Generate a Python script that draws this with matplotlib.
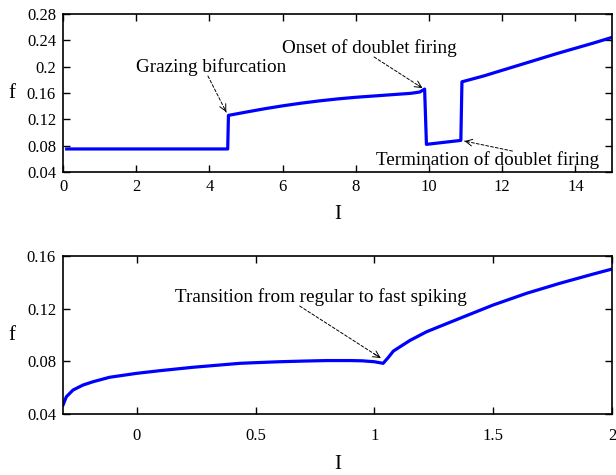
import matplotlib
matplotlib.use('Agg')
import matplotlib.pyplot as plt

plt.rcParams['font.family'] = ['Liberation Serif', 'DejaVu Serif']

# top panel: f vs I
I_top = [0.1, 4.5, 4.52, 5.0, 5.5, 6.0, 6.5, 7.0, 7.5, 8.0, 8.5, 9.0, 9.5, 9.75,
         9.88, 9.93, 10.4, 10.87, 10.9, 11.5, 12.0, 12.5, 13.0, 13.5, 14.0, 14.5, 15.0]
f_top = [0.075, 0.075, 0.126, 0.131, 0.136, 0.1405, 0.1445, 0.148, 0.151, 0.1535,
         0.1555, 0.1575, 0.1595, 0.1615, 0.166, 0.082, 0.085, 0.088, 0.177, 0.186,
         0.1945, 0.203, 0.2115, 0.220, 0.228, 0.236, 0.2445]

# bottom panel: f vs I
I_bot = [-0.31, -0.296, -0.268, -0.226, -0.184, -0.114, 0.0, 0.097, 0.237, 0.434,
         0.5, 0.6, 0.7, 0.8, 0.9, 0.95, 1.0, 1.037, 1.058, 1.08, 1.149, 1.22, 1.36,
         1.5, 1.641, 1.781, 1.921, 2.0]
f_bot = [0.0468, 0.0531, 0.0582, 0.062, 0.0645, 0.0679, 0.0709, 0.0729, 0.0755,
         0.0785, 0.079, 0.0797, 0.0802, 0.0806, 0.0806, 0.0804, 0.0797, 0.0785,
         0.0828, 0.0878, 0.0958, 0.1025, 0.1127, 0.1228, 0.1317, 0.1393, 0.1463,
         0.1501]

fig = plt.figure(figsize=(6.16, 4.75), dpi=100)
ax1 = fig.add_axes([0.1023, 0.6379, 0.8912, 0.3326])
ax2 = fig.add_axes([0.1023, 0.1284, 0.8912, 0.3326])

ax1.plot(I_top, f_top, color='#0000ff', lw=2.3)
ax2.plot(I_bot, f_bot, color='#0000ff', lw=2.3, solid_joinstyle='round')

ax1.set_xlim(0, 15)
ax1.set_ylim(0.04, 0.28)
ax1.set_xticks([0, 2, 4, 6, 8, 10, 12, 14])
ax1.set_yticks([0.04, 0.08, 0.12, 0.16, 0.2, 0.24, 0.28])
ax1.set_yticklabels(['0.04', '0.08', '0.12', '0.16', '0.2', '0.24', '0.28'])

ax2.set_xlim(-0.31, 2)
ax2.set_ylim(0.04, 0.16)
ax2.set_xticks([0, 0.5, 1, 1.5, 2])
ax2.set_xticklabels(['0', '0.5', '1', '1.5', '2'])
ax2.set_yticks([0.04, 0.08, 0.12, 0.16])
ax2.set_yticklabels(['0.04', '0.08', '0.12', '0.16'])

for ax in (ax1, ax2):
    ax.tick_params(direction='in', top=True, right=True, length=5, width=1,
                   labelsize=12, pad=5)
    for s in ax.spines.values():
        s.set_linewidth(1.2)
    ax.set_ylabel('f', fontsize=15, rotation=0, labelpad=11, va='center')

ax2.tick_params(axis='x', pad=10)
ax1.set_xlabel('I', fontsize=15, labelpad=7)
ax2.set_xlabel('I', fontsize=15, labelpad=8)


def note(ax, text, txy, start, end):
    ax.text(txy[0], txy[1], text, fontsize=13.8, ha='center', va='center')
    ax.annotate('', xy=end, xytext=start,
                arrowprops=dict(arrowstyle='-', linestyle=(0, (3, 2)), lw=0.7,
                                color='black', shrinkA=0, shrinkB=0))
    dx = end[0] - start[0]
    dy = end[1] - start[1]
    ax.annotate('', xy=end, xytext=(end[0] - 0.08 * dx, end[1] - 0.08 * dy),
                arrowprops=dict(arrowstyle='->', lw=0.7, color='black',
                                mutation_scale=12, shrinkA=0, shrinkB=0))


note(ax1, 'Grazing bifurcation', (4.05, 0.1995), (3.96, 0.1858), (4.46, 0.131))
note(ax1, 'Onset of doublet firing', (8.37, 0.2283), (8.50, 0.2147), (9.82, 0.1675))
note(ax1, 'Termination of doublet firing', (11.59, 0.0581), (12.28, 0.0718), (10.97, 0.087))
note(ax2, 'Transition from regular to fast spiking', (0.775, 0.1289), (0.686, 0.122), (1.027, 0.0825))

fig.savefig('out.png', dpi=100)
